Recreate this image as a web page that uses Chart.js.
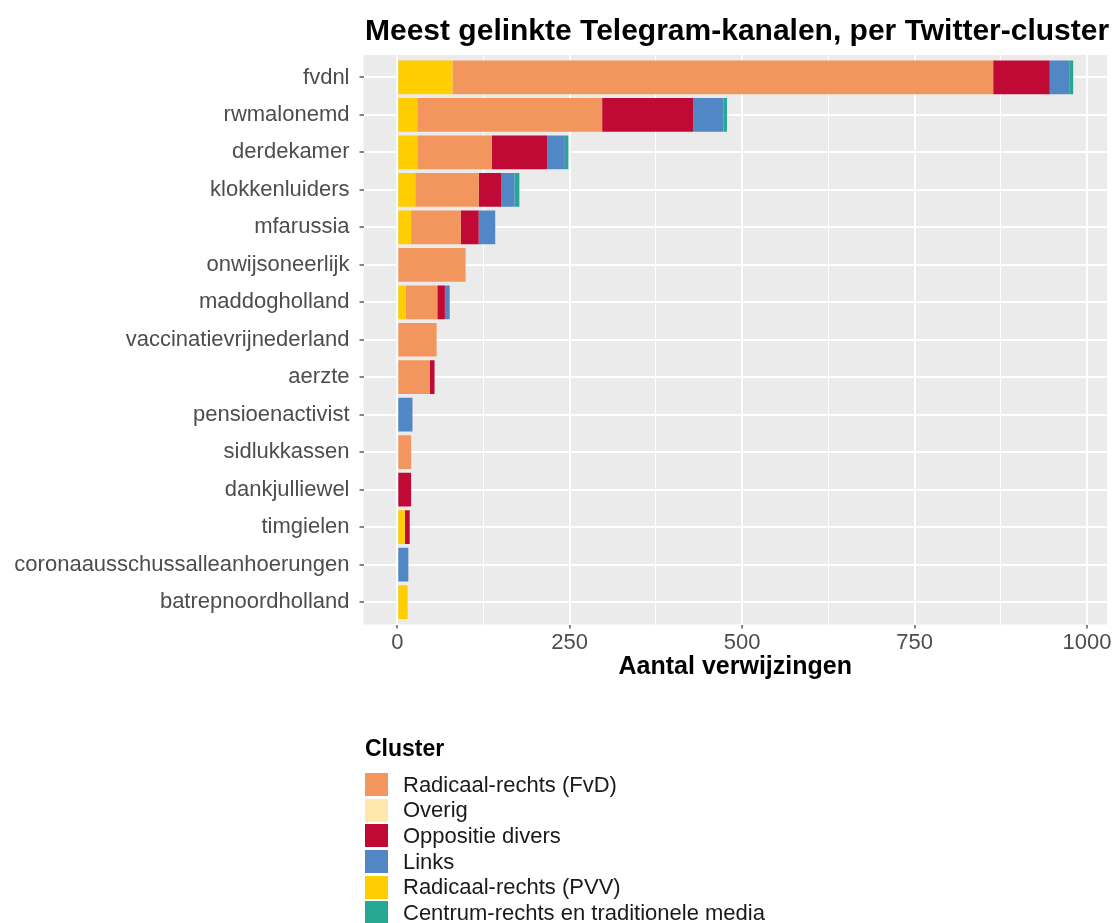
<!DOCTYPE html>
<html lang="nl">

<head>
    <meta charset="UTF-8">
    <title>Meest gelinkte Telegram-kanalen, per Twitter-cluster</title>
    <script src="https://cdn.jsdelivr.net/npm/chart.js"></script>
    <style>
        body { margin: 0; background: #fff; font-family: 'Liberation Sans', Arial, sans-serif; }
        #wrap { position: relative; width: 1113px; height: 923px; overflow: hidden; }
        #legend { position: absolute; left: 365px; top: 735px; color: #000; }
        #legend .titel { font-size: 23px; font-weight: bold; line-height: 26px; margin-bottom: 11px; }
        #legend .rij { display: flex; align-items: center; height: 25.6px; font-size: 22px; color: #1a1a1a; }
        #legend .key { width: 23px; height: 23px; margin-right: 15px; }
    </style>
</head>

<body>
    <div id="wrap">
        <canvas id="chart" width="1113" height="923"></canvas>
        <div id="legend"></div>
    </div>

    <script>
        // kanalen, van boven naar beneden
        const kanalen = ['fvdnl', 'rwmalonemd', 'derdekamer', 'klokkenluiders', 'mfarussia', 'onwijsoneerlijk',
            'maddogholland', 'vaccinatievrijnederland', 'aerzte', 'pensioenactivist', 'sidlukkassen',
            'dankjulliewel', 'timgielen', 'coronaausschussalleanhoerungen', 'batrepnoordholland'];

        // aantal verwijzingen per cluster (geschat uit de figuur)
        const fvd       = [784, 268, 108, 92, 72, 99, 46, 57, 47, 0, 20, 0, 0, 0, 0];
        const overig    = [0, 0, 0, 0, 0, 0, 0, 0, 0, 0, 0, 0, 0, 0, 0];
        const oppositie = [82, 132, 80, 33, 26, 0, 11, 0, 7, 0, 0, 20, 7, 0, 0];
        const links     = [29, 44, 26, 19, 24, 0, 7, 0, 0, 22, 0, 0, 0, 16, 0];
        const pvv       = [80, 29, 29, 26, 20, 0, 12, 0, 0, 0, 0, 0, 11, 0, 15];
        const centrum   = [5, 5, 5, 7, 0, 0, 0, 0, 0, 0, 0, 0, 0, 0, 0];

        const xMajor = [0, 250, 500, 750, 1000];
        const xMinor = [125, 375, 625, 875];

        // legenda-volgorde
        const clusters = ['Radicaal-rechts (FvD)', 'Overig', 'Oppositie divers', 'Links',
            'Radicaal-rechts (PVV)', 'Centrum-rechts en traditionele media'];
        const kleuren = ['#F3965E', '#FFE6AB', '#C00A35', '#5287C6', '#FFCD00', '#24A793'];
        const waarden = [fvd, overig, oppositie, links, pvv, centrum];

        // volgorde van links naar rechts in de balk
        const stapel = [4, 0, 1, 2, 3, 5];

        const totalen = kanalen.map((k, i) => waarden.reduce((s, w) => s + w[i], 0));
        const maxTotaal = Math.max(...totalen);

        const datasets = stapel.map(c => ({
            label: clusters[c],
            data: kanalen.map((k, i) => ({ y: i, x: waarden[c][i] })),
            backgroundColor: kleuren[c],
            borderWidth: 0,
            categoryPercentage: 0.9,
            barPercentage: 1.0
        }));

        // grijs paneel + titel
        const paneel = {
            id: 'paneel',
            beforeDraw(chart) {
                const { ctx, chartArea: a } = chart;
                ctx.save();
                ctx.fillStyle = '#EBEBEB';
                ctx.fillRect(a.left, a.top, a.right - a.left, a.bottom - a.top);
                ctx.restore();
            },
            afterDraw(chart) {
                const ctx = chart.ctx;
                ctx.save();
                ctx.fillStyle = '#000';
                ctx.font = "bold 30px 'Liberation Sans', Arial, sans-serif";
                ctx.textBaseline = 'alphabetic';
                ctx.fillText('Meest gelinkte Telegram-kanalen, per Twitter-cluster', chart.chartArea.left + 1.5, 39.5);
                ctx.restore();
            }
        };

        Chart.defaults.font.family = "'Liberation Sans', Arial, sans-serif";

        new Chart(document.getElementById('chart'), {
            type: 'bar',
            data: { datasets: datasets },
            plugins: [paneel],
            options: {
                indexAxis: 'y',
                responsive: false,
                animation: false,
                layout: { padding: { top: 55, right: 6, bottom: 241, left: 0 } },
                plugins: { legend: { display: false }, tooltip: { enabled: false } },
                scales: {
                    x: {
                        type: 'linear',
                        stacked: true,
                        min: -0.05 * maxTotaal,
                        max: 1.05 * maxTotaal,
                        afterBuildTicks: s => { s.ticks = xMajor.concat(xMinor).sort((a, b) => a - b).map(v => ({ value: v })); },
                        afterFit: s => { s.height = 57.5; },
                        border: { display: false },
                        grid: {
                            color: '#FFFFFF',
                            lineWidth: c => xMajor.includes(c.tick.value) ? 2 : 1,
                            tickLength: 4,
                            tickWidth: 1.2,
                            tickColor: c => xMajor.includes(c.tick.value) ? '#333333' : 'rgba(0,0,0,0)'
                        },
                        ticks: {
                            color: '#4D4D4D',
                            font: { size: 22 },
                            padding: 1,
                            autoSkip: false,
                            maxRotation: 0,
                            callback: v => xMajor.includes(v) ? String(v) : ''
                        },
                        title: {
                            display: true,
                            text: 'Aantal verwijzingen',
                            color: '#000',
                            font: { size: 25, weight: 'bold' },
                            padding: 0
                        }
                    },
                    y: {
                        type: 'linear',
                        stacked: true,
                        reverse: true,
                        offset: false,
                        min: -0.6,
                        max: kanalen.length - 0.4,
                        afterBuildTicks: s => { s.ticks = kanalen.map((k, i) => ({ value: i })); },
                        afterFit: s => { s.width = 363.5; },
                        border: { display: false },
                        grid: {
                            offset: false,
                            color: '#FFFFFF',
                            lineWidth: 2,
                            tickLength: 4,
                            tickWidth: 1.2,
                            tickColor: '#333333'
                        },
                        ticks: {
                            color: '#4D4D4D',
                            font: { size: 22 },
                            padding: 10,
                            autoSkip: false,
                            callback: v => kanalen[v]
                        }
                    }
                }
            }
        });

        // legenda
        const legend = document.getElementById('legend');
        const titel = document.createElement('div');
        titel.className = 'titel';
        titel.textContent = 'Cluster';
        legend.appendChild(titel);
        clusters.forEach((c, i) => {
            const rij = document.createElement('div');
            rij.className = 'rij';
            const key = document.createElement('span');
            key.className = 'key';
            key.style.background = kleuren[i];
            const tekst = document.createElement('span');
            tekst.textContent = c;
            rij.appendChild(key);
            rij.appendChild(tekst);
            legend.appendChild(rij);
        });
    </script>
</body>

</html>
